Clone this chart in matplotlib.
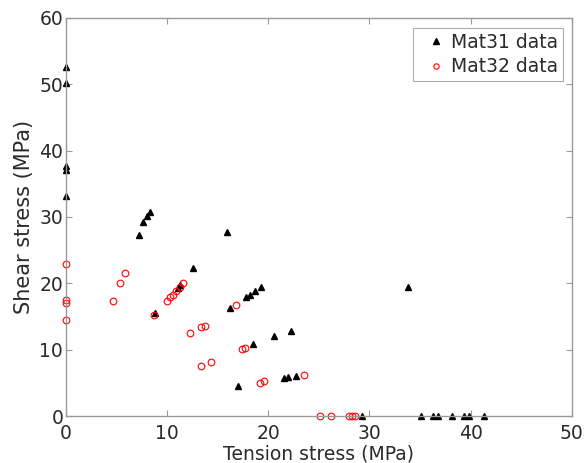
import matplotlib
matplotlib.use('Agg')
import matplotlib.pyplot as plt

# Mat31 test points: tension stress vs shear stress (MPa)
mat31_tension = [0.0, 0.0, 0.0, 0.0, 0.0,
                 7.2, 7.6, 8.0, 8.3,
                 8.8, 11.1, 11.3, 12.6,
                 15.9, 16.2, 17.0, 17.8, 18.2, 18.7, 19.3,
                 18.5, 20.6, 22.2,
                 21.6, 21.9, 22.7,
                 29.3, 33.8, 35.1, 36.3, 36.8, 38.2, 39.3, 39.8, 41.3]
mat31_shear = [52.6, 50.2, 37.6, 37.0, 33.2,
               27.2, 29.2, 30.2, 30.8,
               15.5, 19.3, 19.7, 22.3,
               27.7, 16.3, 4.5, 17.9, 18.3, 18.8, 19.4,
               10.8, 12.0, 12.8,
               5.8, 5.9, 6.0,
               0.0, 19.5, 0.0, 0.0, 0.0, 0.0, 0.0, 0.0, 0.0]

# Mat32 test points
mat32_tension = [0.0, 0.0, 0.0, 0.0,
                 4.6, 5.3, 5.8,
                 8.7, 10.0, 10.3, 10.6, 10.9, 11.3, 11.6,
                 12.3, 13.3, 13.7, 13.3, 14.3,
                 16.8, 17.4, 17.7, 19.2, 19.6, 23.5,
                 25.1, 26.2, 28.0, 28.3, 28.6]
mat32_shear = [22.9, 17.5, 17.0, 14.5,
               17.3, 20.0, 21.6,
               15.2, 17.4, 17.9, 18.3, 18.8, 19.4, 20.0,
               12.5, 13.4, 13.6, 7.6, 8.2,
               16.7, 10.1, 10.2, 5.0, 5.3, 6.2,
               0.0, 0.0, 0.0, 0.0, 0.0]

plt.rcParams['font.family'] = ['DejaVu Sans']

fig = plt.figure(figsize=(5.84, 4.63), dpi=100)
ax = fig.add_axes([0.113, 0.1015, 0.866, 0.86])

ax.plot(mat31_tension, mat31_shear, linestyle='none', marker='^',
        markersize=5, color='black', label='Mat31 data', clip_on=False)
ax.plot(mat32_tension, mat32_shear, linestyle='none', marker='o',
        markersize=4.8, markerfacecolor='none', markeredgecolor='red',
        markeredgewidth=0.8, label='Mat32 data', clip_on=False)

ax.set_xlim(0, 50)
ax.set_ylim(0, 60)
ax.set_xticks(range(0, 51, 10))
ax.set_yticks(range(0, 61, 10))

axis_grey = '#999999'
text_col = '#2a2a2a'
for spine in ax.spines.values():
    spine.set_color(axis_grey)
    spine.set_linewidth(1.0)
ax.tick_params(direction='in', top=True, right=True, length=4,
               color=axis_grey, labelsize=13.5, labelcolor=text_col)
ax.tick_params(axis='x', pad=6)
ax.tick_params(axis='y', pad=2)

ax.set_xlabel('Tension stress (MPa)', fontsize=13.5, color=text_col, labelpad=1)
ax.set_ylabel('Shear stress (MPa)', fontsize=15, color=text_col, labelpad=4)

leg = ax.legend(loc='upper right', fontsize=13.5, frameon=True, fancybox=False,
                edgecolor=axis_grey, handlelength=1.9, handletextpad=-0.15,
                borderpad=0.26, labelspacing=0.31, markerscale=0.8,
                borderaxespad=0, bbox_to_anchor=(0.982, 0.975))
leg.get_frame().set_linewidth(0.8)
for txt in leg.get_texts():
    txt.set_color(text_col)

fig.savefig('out.png', dpi=100)
